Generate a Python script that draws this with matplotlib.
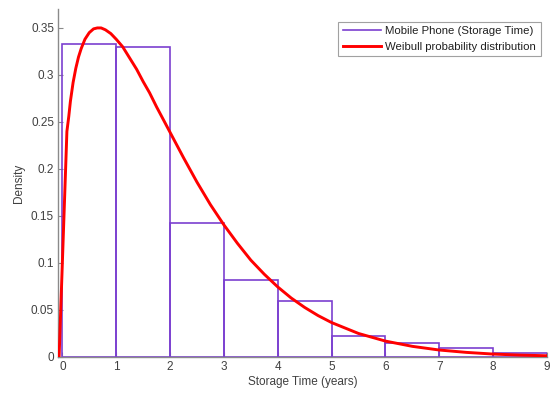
import numpy as np
import matplotlib
matplotlib.use("Agg")
import matplotlib.pyplot as plt
from matplotlib.lines import Line2D
from matplotlib.ticker import FuncFormatter

# ---------------------------------------------------------------------------
# Data
# ---------------------------------------------------------------------------
bin_edges = [0, 1, 2, 3, 4, 5, 6, 7, 8, 9]
density = [0.3327, 0.3298, 0.1422, 0.0819, 0.0596, 0.0223, 0.0146, 0.0099, 0.0046]

# fitted Weibull curve
curve_x = [-0.06, 0.085, 0.12, 0.15, 0.2, 0.25, 0.3, 0.35, 0.42, 0.5, 0.58,
           0.65, 0.72, 0.8, 0.9, 1.0, 1.12, 1.25, 1.38, 1.5, 1.62, 1.75,
           1.88, 2.0, 2.25, 2.5, 2.75, 3.0, 3.25, 3.5, 3.75, 4.0, 4.25,
           4.5, 4.75, 5.0, 5.5, 6.0, 6.5, 7.0, 7.5, 8.0, 8.5, 9.0]
curve_y = [0.0, 0.240, 0.256, 0.272, 0.292, 0.307, 0.319, 0.328, 0.338,
           0.345, 0.349, 0.350, 0.350, 0.348, 0.344, 0.338, 0.330, 0.318,
           0.306, 0.293, 0.281, 0.266, 0.252, 0.239, 0.212, 0.186, 0.162,
           0.1405, 0.121, 0.103, 0.088, 0.0745, 0.0627, 0.0527, 0.044,
           0.0366, 0.025, 0.0169, 0.0113, 0.0074, 0.0049, 0.0031, 0.0020,
           0.0013]

x_ticks = [0, 1, 2, 3, 4, 5, 6, 7, 8, 9]
y_ticks = [0, 0.05, 0.1, 0.15, 0.2, 0.25, 0.3, 0.35]

BAR_COLOR = "#7b3fd0"
CURVE_COLOR = "#ff0000"
AXIS_COLOR = "#8a8a8a"
TEXT_COLOR = "#404040"

plt.rcParams["font.family"] = ["Liberation Sans", "DejaVu Sans"]

fig = plt.figure(figsize=(5.52, 3.97), dpi=100)
ax = fig.add_axes([0.1056, 0.1008, 0.8854, 0.8762])

lefts = np.array(bin_edges[:-1])
widths = np.diff(bin_edges)
ax.bar(lefts, density, width=widths, align="edge", fill=False,
       edgecolor=BAR_COLOR, linewidth=1.2, zorder=2)
ax.plot(curve_x, curve_y, color=CURVE_COLOR, linewidth=2.1, zorder=3,
        solid_joinstyle="round")

ax.set_xlim(-0.075, 9)
ax.set_ylim(0, 0.37)
ax.set_xticks(x_ticks)
ax.set_yticks(y_ticks)
ax.yaxis.set_major_formatter(FuncFormatter(lambda v, p: f"{v:g}"))

for side in ("top", "right"):
    ax.spines[side].set_visible(False)
for side in ("left", "bottom"):
    ax.spines[side].set_color(AXIS_COLOR)
    ax.spines[side].set_linewidth(1.0)
ax.tick_params(direction="in", length=3.5, width=0.8, color=AXIS_COLOR,
               labelcolor=TEXT_COLOR, labelsize=8.5, pad=3)

ax.set_xlabel("Storage Time (years)", fontsize=8.5, color=TEXT_COLOR, labelpad=2)
ax.set_ylabel("Density", fontsize=8.5, color=TEXT_COLOR, labelpad=4)

handles = [Line2D([], [], color=BAR_COLOR, linewidth=1.2),
           Line2D([], [], color=CURVE_COLOR, linewidth=2.1)]
labels = ["Mobile Phone (Storage Time)", "Weibull probability distribution"]
leg = ax.legend(handles, labels, loc="upper right", fontsize=8.2,
                frameon=True, fancybox=False, borderpad=0.4,
                handlelength=3.4, handletextpad=0.35, labelspacing=0.45,
                borderaxespad=0.0, bbox_to_anchor=(0.987, 0.9635))
leg.get_frame().set_edgecolor("#8a8a8a")
leg.get_frame().set_linewidth(0.8)
for t in leg.get_texts():
    t.set_color("#202020")

fig.savefig("out.png", dpi=100)
